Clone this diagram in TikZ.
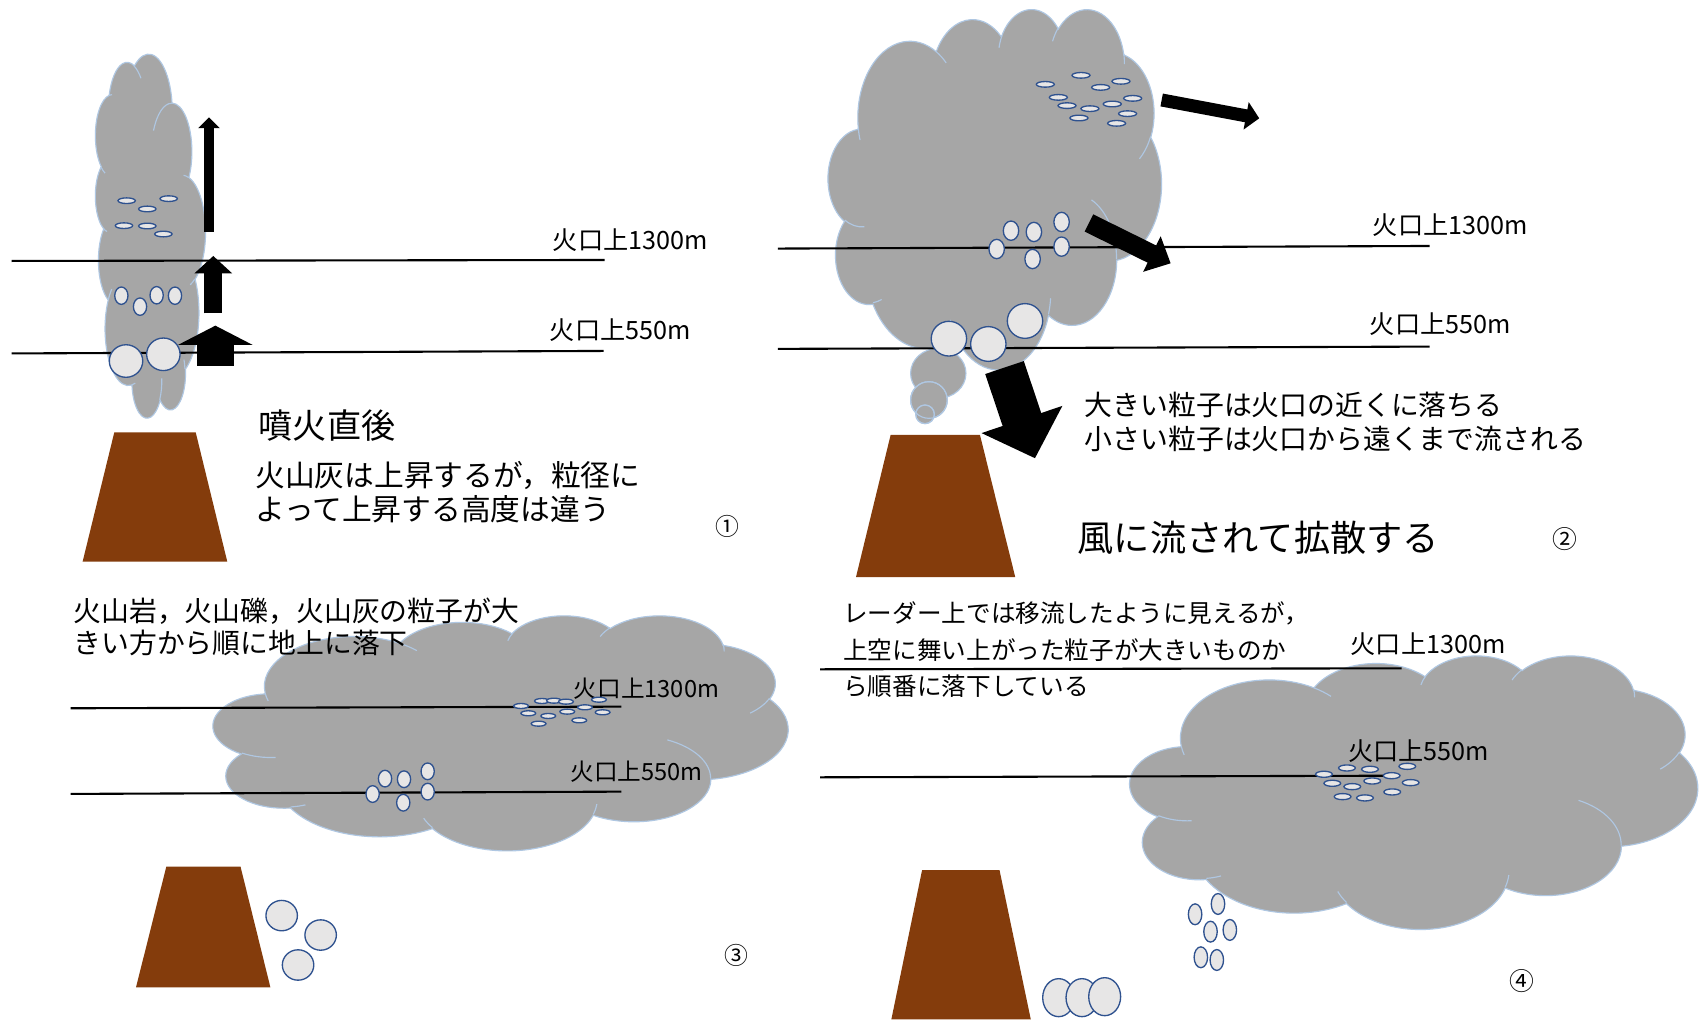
\documentclass[tikz,border=0pt]{standalone}
\usepackage{fontspec}
\setmainfont{Noto Sans CJK JP}
\usetikzlibrary{arrows.meta}

\definecolor{ashgray}{HTML}{A6A6A6}
\definecolor{puffedge}{HTML}{AFC7E2}
\definecolor{grainfill}{HTML}{E7E6E6}
\definecolor{grainedge}{HTML}{2F528F}
\definecolor{lava}{HTML}{843C0C}

\tikzset{
  ash/.style={fill=ashgray,draw=puffedge,line width=0.6pt},
  puffline/.style={draw=puffedge,line width=0.6pt},
  heightline/.style={line width=1.1pt},
  grain/.style={fill=grainfill,draw=grainedge,line width=0.7pt},
  cone/.style={fill=lava},
  tag/.style={anchor=west,inner sep=0pt,font=\fontsize{13.2}{15}\selectfont},
  note/.style={anchor=west,inner sep=0pt,align=left},
}

% puffy cloud on a 43.2 x 43.2 grid
\newcommand\puffoutline{%
  \path[ash] (3.9,14.37)
    arc[start angle=172.25,end angle=300.36,x radius=6.753,y radius=9.19]
    arc[start angle=-152.02,end angle=-45.43,x radius=5.333,y radius=7.267]
    arc[start angle=-153.49,end angle=-37.34,x radius=4.365,y radius=5.945]
    arc[start angle=-139.69,end angle=-10.21,x radius=4.857,y radius=6.595]
    arc[start angle=-74.77,end angle=23.21,x radius=5.333,y radius=7.273]
    arc[start angle=-37.53,end angle=81.86,x radius=6.775,y radius=9.22]
    arc[start angle=0.46,end angle=121.98,x radius=5.785,y radius=7.867]
    arc[start angle=16.84,end angle=146.24,x radius=6.752,y radius=9.215]
    arc[start angle=58.98,end angle=150.2,x radius=7.72,y radius=10.543]
    arc[start angle=83.31,end angle=223.13,x radius=4.36,y radius=5.918]
    arc[start angle=120.36,end angle=264.11,x radius=4.345,y radius=5.945]
    -- cycle;
  % folds between the puffs
  \path[puffline]
    (4.693,26.177) arc[start angle=85.55,end angle=120.36,x radius=4.345,y radius=5.945]
    (6.928,34.899) arc[start angle=68.24,end angle=83.31,x radius=4.36,y radius=5.918]
    (16.478,39.09) arc[start angle=146.24,end angle=158.47,x radius=6.752,y radius=9.215]
    (28.827,34.751) arc[start angle=4.74,end angle=16.84,x radius=6.752,y radius=9.215]
    (34.129,22.954) arc[start angle=-64.03,end angle=0.46,x radius=5.785,y radius=7.867]
    (41.798,15.354) arc[start angle=23.21,end angle=49.64,x radius=5.333,y radius=7.273]
    (38.324,5.426) arc[start angle=-10.21,end angle=0.82,x radius=4.857,y radius=6.595]
    (29.078,3.952) arc[start angle=-156.29,end angle=-139.69,x radius=4.857,y radius=6.595]
    (22.141,4.72) arc[start angle=-167.73,end angle=-153.49,x radius=4.365,y radius=5.945]
    (14,5.192) arc[start angle=-59.64,end angle=-45.73,x radius=6.753,y radius=9.19]
    (4.127,15.789) arc[start angle=163.19,end angle=172.25,x radius=6.753,y radius=9.19];}

% cloud placed by its top-left corner, width and height
\newcommand\ashcloud[4]{%
  \begin{scope}[shift={(#1,#2)},xscale=#3/43.2,yscale=#4/43.2]
    \puffoutline
  \end{scope}}

\begin{document}
\begin{tikzpicture}[x=0.2mm,y=-0.2mm]
  \fill[white] (0,0) rectangle (1568,939);
  \useasboundingbox (0,0) rectangle (1568,939);

  %% 1: just after the eruption
  % the column is the cloud turned on its side
  \begin{scope}[shift={(87.5,385)},rotate=90,xscale=335/43.2,yscale=101.5/43.2]
    \puffoutline
  \end{scope}
  \draw[heightline] (10.6,240.4) -- (557,239.5);
  \draw[heightline] (10.6,325.6) -- (556.2,323.3);
  \node[tag] at (509,220.8) {火口上1300m};
  \node[tag] at (506.3,304) {火口上550m};
  \foreach \gx/\gy in {116.7/184.9,135.7/192.5,155.4/183,114.2/207.9,135.7/208.2,150.5/215.6}
    \draw[grain] (\gx,\gy) ellipse[x radius=8,y radius=2.6];
  \foreach \gx/\gy in {111.8/272.4,129/282.5,144.3/272,161.2/272.4}
    \draw[grain] (\gx,\gy) ellipse[x radius=6.1,y radius=8];
  \foreach \gx/\gy in {116.1/332.6,150.5/326.4}
    \draw[grain] (\gx,\gy) ellipse[x radius=15.4,y radius=15];
  \coordinate (rise1a) at (192.5,213.4);
  \coordinate (rise1b) at (192.5,108.1);
  \coordinate (rise2a) at (196.5,288.6);
  \coordinate (rise2b) at (196.5,235.8);
  \coordinate (rise3a) at (198.4,336.9);
  \coordinate (rise3b) at (198.4,300);
  \draw[line width=1.96mm,-{Triangle[width=3.86mm,length=2mm]}] (rise1a) -- (rise1b);
  \draw[line width=3.32mm,-{Triangle[width=6.76mm,length=3.2mm]}] (rise2a) -- (rise2b);
  \draw[line width=6.94mm,-{Triangle[width=13.64mm,length=3.56mm]}] (rise3a) -- (rise3b);
  \fill[cone] (105.3,398.3) -- (180.3,398.3) -- (209.4,517.5) -- (76.1,517.5) -- cycle;
  \node[note,font=\fontsize{17.9}{20}\selectfont] at (238.1,392) {噴火直後};
  \node[note,font=\fontsize{15.6}{18}\selectfont] at (234.8,453.2)
    {火山灰は上昇するが，粒径に\\よって上昇する高度は違う};
  \node[font=\fontsize{12.5}{14}\selectfont,inner sep=0pt] at (670,485) {①};

  %% 2: carried off by the wind
  \fill[ash] (864.4,343.9) ellipse[x radius=25.5,y radius=23];
  \fill[ash] (855.8,368.5) circle (16.9);
  \fill[ash] (852.2,381.7) circle (8.6);
  \draw[puffline] (855.8,368.5) circle (16.9);
  \draw[puffline] (852.2,381.7) circle (8.6);
  \ashcloud{763}{7.7}{307}{332}
  \draw[heightline] (716.7,229) -- (1317,226.6);
  \draw[heightline] (716.7,321.4) -- (1317,319.3);
  \node[tag] at (1264.5,207) {火口上1300m};
  \node[tag] at (1261.7,298.8) {火口上550m};
  \foreach \gx/\gy in {963/77.7,995.9/69.4,1014/80.5,1032.7/74.9,975/89.7,983/97.3,
      1004.1/100.1,1024.7/95.8,1043.5/90.6,994/108.7,1038.8/104.7,1028.7/113.6}
    \draw[grain] (\gx,\gy) ellipse[x radius=8.3,y radius=2.6];
  \foreach \gx/\gy in {918.2/229.4,931.4/212.5,952.5/213.7,978/204.5,978/227.2,951.3/238.6}
    \draw[grain] (\gx,\gy) ellipse[x radius=7.1,y radius=8.9];
  \foreach \gx/\gy in {874.2/312,910.5/316.9,944.3/295.7}
    \draw[grain] (\gx,\gy) ellipse[x radius=16.3,y radius=16];
  \coordinate (drift1a) at (1070.2,92.1);
  \coordinate (drift1b) at (1160.1,109);
  \coordinate (drift2a) at (1003.2,205.4);
  \coordinate (drift2b) at (1078.5,242.6);
  \coordinate (drop2a) at (925.4,338.6);
  \coordinate (drop2b) at (953.5,422.2);
  \draw[line width=2.4mm,-{Triangle[width=5mm,length=2.46mm]}] (drift1a) -- (drift1b);
  \draw[line width=3.54mm,-{Triangle[width=7.06mm,length=3.86mm]}] (drift2a) -- (drift2b);
  \draw[line width=7.5mm,-{Triangle[width=15.26mm,length=7.54mm]}] (drop2a) -- (drop2b);
  \fill[cone] (820.5,400.7) -- (902.8,400.7) -- (935.3,531.6) -- (788.6,531.6) -- cycle;
  \node[note,font=\fontsize{14.6}{18}\selectfont] at (999,388.8)
    {大きい粒子は火口の近くに落ちる\\小さい粒子は火口から遠くまで流される};
  \node[note,font=\fontsize{19}{22}\selectfont] at (992.4,495) {風に流されて拡散する};
  \node[font=\fontsize{13}{15}\selectfont,inner sep=0pt] at (1442,496.6) {②};

  %% 3: the grains come down by size
  \ashcloud{196.5}{566.6}{529.5}{216.5}
  \node[note,font=\fontsize{14.6}{16.7}\selectfont] at (67.4,577.3)
    {火山岩，火山礫，火山灰の粒子が大\\きい方から順に地上に落下};
  \draw[heightline] (65,652.5) -- (572.4,651);
  \draw[heightline] (65,731.4) -- (572.4,729.3);
  \node[tag,font=\fontsize{12.4}{14}\selectfont] at (528.2,634.4) {火口上1300m};
  \node[tag,font=\fontsize{12.4}{14}\selectfont] at (525.1,711) {火口上550m};
  \foreach \gx/\gy in {480/650.4,499.3/645.8,510.4/645.5,521.4/646.4,486.7/657.1,505.1/659.6,
      522.6/655.6,538.9/651.6,551.8/644.6,555.2/656.2,496.2/666.7,533.7/663.6}
    \draw[grain] (\gx,\gy) ellipse[x radius=6.8,y radius=2.3];
  \foreach \gx/\gy in {343.3/731.5,354.7/717.3,372.2/717.9,394/710.6,394/729.3,371.5/739.5}
    \draw[grain] (\gx,\gy) ellipse[x radius=6.1,y radius=7.7];
  \fill[cone] (153.2,798.4) -- (221.6,798.4) -- (249.1,909.6) -- (125.3,909.6) -- cycle;
  \foreach \gx/\gy in {259.5/843.5,295.4/861.4,274.6/889}
    \draw[grain] (\gx,\gy) ellipse[x radius=14.5,y radius=14];
  \node[font=\fontsize{12.5}{14}\selectfont,inner sep=0pt] at (678.5,880.6) {③};

  %% 4: what the radar sees
  \ashcloud{1041}{603.4}{523}{252}
  \node[note,font=\fontsize{12.9}{19}\selectfont] at (776.6,598.5)
    {レーダー上では移流したように見えるが，\\上空に舞い上がった粒子が大きいものか\\ら順番に落下している};
  \draw[heightline] (755.6,616.6) -- (1291.3,615.7);
  \draw[heightline] (755.6,716.1) -- (1289.7,714.6);
  \node[tag] at (1244.1,593.7) {火口上1300m};
  \node[tag] at (1241.6,691.7) {火口上550m};
  \foreach \gx/\gy in {1219.7/713.3,1240.9/707.5,1262.1/708.7,1282.1/714.6,1296.5/706,1227.4/721.6,
      1245.8/724.7,1264.2/719.5,1282.6/729.6,1299.6/721,1236.9/733.9,1257.5/735.1}
    \draw[grain] (\gx,\gy) ellipse[x radius=7.7,y radius=2.8];
  \foreach \gx/\gy in {1101/842.3,1122.1/832.8,1115.2/858.3,1133/856.7,1106.3/881.9,1121/884.4}
    \draw[grain] (\gx,\gy) ellipse[x radius=6.2,y radius=9.6];
  \fill[cone] (849.5,801.5) -- (920.8,801.5) -- (949.6,939) -- (821.2,939) -- cycle;
  \foreach \gx/\gy in {975.3/919.1,996.8/919.1,1017.7/918.2}
    \draw[grain] (\gx,\gy) ellipse[x radius=14.7,y radius=17.5];
  \node[font=\fontsize{13}{15}\selectfont,inner sep=0pt] at (1402,904) {④};
\end{tikzpicture}
\end{document}
